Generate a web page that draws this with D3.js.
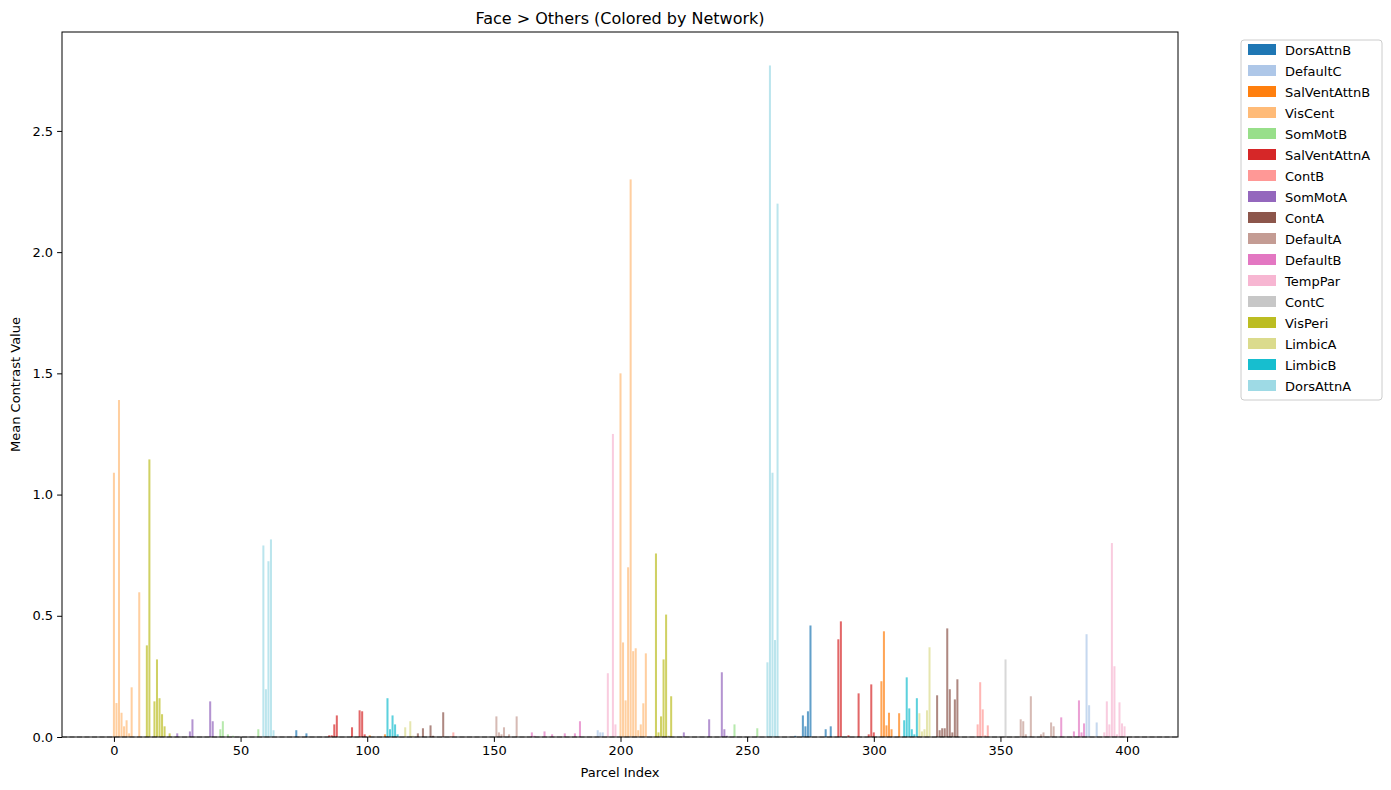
<!DOCTYPE html>
<html><head><meta charset="utf-8">
<script src="https://cdn.jsdelivr.net/npm/d3@7"></script>
<style>body{margin:0;background:#fff;font-family:"DejaVu Sans",sans-serif;}</style>
</head><body><svg id="chart" width="1391" height="790"></svg>
<script>
// legend order and tab20 colours
const networks = ["DorsAttnB","DefaultC","SalVentAttnB","VisCent","SomMotB","SalVentAttnA","ContB","SomMotA","ContA","DefaultA","DefaultB","TempPar","ContC","VisPeri","LimbicA","LimbicB","DorsAttnA"];
const netColors = ["#1f77b4","#aec7e8","#ff7f0e","#ffbb78","#98df8a","#d62728","#ff9896","#9467bd","#8c564b","#c49c94","#e377c2","#f7b6d2","#c7c7c7","#bcbd22","#dbdb8d","#17becf","#9edae5"];

// [network, first parcel, last parcel]
const segments = [
  ["VisCent",0,12],["VisPeri",13,24],["SomMotA",25,41],["SomMotB",42,57],["DorsAttnA",58,64],["DorsAttnB",65,84],
  ["SalVentAttnA",85,99],["SalVentAttnB",100,107],["LimbicB",108,112],["LimbicA",113,118],["ContA",119,131],["ContB",132,139],
  ["ContC",140,148],["DefaultA",149,159],["DefaultB",160,186],["DefaultC",187,193],["TempPar",194,199],
  ["VisCent",200,212],["VisPeri",213,222],["SomMotA",223,242],["SomMotB",243,256],["DorsAttnA",257,264],["DorsAttnB",265,283],
  ["SalVentAttnA",284,300],["SalVentAttnB",301,310],["LimbicB",311,317],["LimbicA",318,322],["ContA",323,335],["ContB",336,347],
  ["ContC",348,355],["DefaultA",356,372],["DefaultB",373,383],["DefaultC",384,389],["TempPar",390,399]
];

// non-zero parcels: [index, mean contrast]
const values = [
  [0,1.09],[1,0.14],[2,1.39],[3,0.10],[4,0.044],[5,0.069],[6,0.015],[7,0.205],[10,0.597],
  [13,0.378],[14,1.145],[16,0.147],[17,0.32],[18,0.16],[19,0.094],[20,0.044],[22,0.015],
  [25,0.015],[30,0.023],[31,0.073],[38,0.147],[39,0.065],[42,0.032],[43,0.065],[45,0.011],[47,0.005],
  [57,0.032],[59,0.79],[60,0.197],[61,0.725],[62,0.815],[63,0.028],[72,0.028],[76,0.015],
  [85,0.007],[86,0.007],[87,0.052],[88,0.089],[94,0.04],[97,0.11],[98,0.106],[99,0.011],[101,0.007],[107,0.011],
  [108,0.16],[109,0.032],[110,0.089],[111,0.052],[112,0.011],[115,0.04],[117,0.065],[118,0.005],
  [120,0.015],[122,0.036],[125,0.048],[126,0.005],[130,0.102],[133,0.004],[134,0.019],
  [151,0.085],[152,0.019],[153,0.011],[154,0.04],[156,0.011],[159,0.085],[165,0.019],[166,0.005],
  [170,0.023],[173,0.011],[178,0.015],[182,0.015],[184,0.065],[191,0.028],[192,0.019],[193,0.019],
  [195,0.263],[197,1.25],[198,0.052],[200,1.5],[201,0.39],[202,0.151],[203,0.70],[204,2.30],[205,0.354],
  [206,0.366],[207,0.028],[208,0.052],[209,0.139],[210,0.345],[214,0.757],[215,0.019],[216,0.085],[217,0.32],
  [218,0.505],[219,0.005],[220,0.168],[225,0.019],[235,0.073],[240,0.267],[241,0.032],[242,0.005],[245,0.052],
  [254,0.036],[258,0.308],[259,2.77],[260,1.09],[261,0.40],[262,2.20],[269,0.005],[272,0.089],[273,0.044],
  [274,0.106],[275,0.46],[281,0.032],[283,0.044],[286,0.403],[287,0.477],[290,0.007],[294,0.18],[298,0.011],
  [299,0.217],[300,0.019],[303,0.23],[304,0.436],[305,0.048],[306,0.10],[307,0.032],[310,0.098],
  [312,0.069],[313,0.246],[314,0.118],[315,0.032],[316,0.011],[317,0.16],[318,0.098],[319,0.023],[320,0.032],
  [321,0.11],[322,0.37],[325,0.172],[326,0.028],[327,0.036],[328,0.036],[329,0.448],[330,0.197],[331,0.019],
  [332,0.155],[333,0.238],[341,0.052],[342,0.226],[343,0.114],[344,0.007],[345,0.048],[352,0.32],
  [358,0.073],[359,0.065],[360,0.011],[362,0.168],[366,0.011],[367,0.019],[370,0.06],[371,0.044],
  [374,0.081],[379,0.023],[381,0.151],[382,0.019],[383,0.056],[384,0.424],[385,0.131],[388,0.06],
  [391,0.019],[392,0.147],[393,0.052],[394,0.80],[395,0.292],[396,0.011],[397,0.143],[398,0.056],[399,0.044]
];

const xTicks = [0,50,100,150,200,250,300,350,400];
const yTicks = [0,0.5,1.0,1.5,2.0,2.5];

const netOf = i => segments.find(s => i >= s[1] && i <= s[2])[0];
const valMap = new Map(values);
const parcels = d3.range(400).map(i => ({i, v: valMap.get(i) || 0, net: netOf(i)}));
const color = d3.scaleOrdinal(networks, netColors);

const svg = d3.select("#chart");
const L = 62, R = 1178, T = 32, B = 737;
const x = d3.scaleLinear().domain([-20.5, 420.1]).range([L, R]);
const y = d3.scaleLinear().domain([0, 2.908]).range([B, T]);

svg.append("g").selectAll("rect").data(parcels).enter().append("rect")
  .attr("x", d => x(d.i - 0.4)).attr("width", x(0.8) - x(0))
  .attr("y", d => y(d.v)).attr("height", d => B - y(d.v))
  .attr("fill", d => color(d.net)).attr("opacity", 0.7);

svg.append("line").attr("x1", L).attr("x2", R).attr("y1", y(0)).attr("y2", y(0))
  .attr("stroke", "#000").attr("stroke-opacity", 0.5).attr("stroke-dasharray", "5,2.5").attr("stroke-width", 1.2);

const xa = svg.append("g").attr("transform", `translate(0,${B})`)
  .call(d3.axisBottom(x).tickValues(xTicks).tickFormat(d3.format("d")).tickSizeOuter(0).tickSize(4.9).tickPadding(4));
const ya = svg.append("g").attr("transform", `translate(${L},0)`)
  .call(d3.axisLeft(y).tickValues(yTicks).tickFormat(d3.format(".1f")).tickSizeOuter(0).tickSize(4.9).tickPadding(4));
[xa, ya].forEach(a => { a.selectAll("text").attr("font-size", 13).attr("font-family", "DejaVu Sans").attr("fill", "#000"); a.select(".domain").remove(); });

svg.append("rect").attr("x", L).attr("y", T).attr("width", R - L).attr("height", B - T)
  .attr("fill", "none").attr("stroke", "#000").attr("stroke-width", 1);

svg.append("text").attr("x", (L + R) / 2).attr("y", 24).attr("text-anchor", "middle")
  .attr("font-size", 16).text("Face > Others (Colored by Network)");
svg.append("text").attr("x", (L + R) / 2).attr("y", 777).attr("text-anchor", "middle")
  .attr("font-size", 13).text("Parcel Index");
svg.append("text").attr("transform", `translate(20,${(T + B) / 2}) rotate(-90)`).attr("text-anchor", "middle")
  .attr("font-size", 13).text("Mean Contrast Value");

// legend
const lg = svg.append("g").attr("transform", "translate(1241,40)");
lg.append("rect").attr("width", 141).attr("height", 360).attr("rx", 3)
  .attr("fill", "#fff").attr("stroke", "#ccc");
const items = lg.selectAll("g.item").data(networks).enter().append("g")
  .attr("transform", (d, k) => `translate(7,${4 + k * 21})`);
items.append("rect").attr("width", 28).attr("height", 11).attr("fill", d => color(d));
items.append("text").attr("x", 37).attr("y", 10.5).attr("font-size", 13).text(d => d);
</script></body></html>
